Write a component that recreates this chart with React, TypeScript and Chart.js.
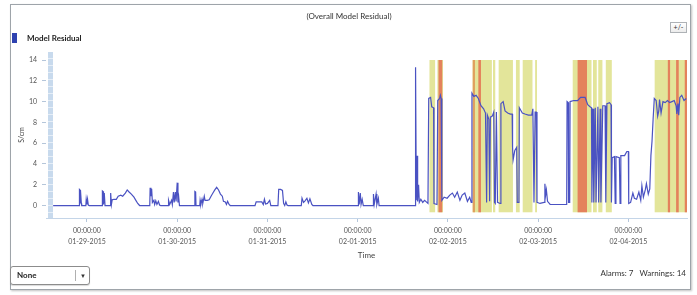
import React, { useEffect, useRef } from 'react';
import { Chart, registerables } from 'chart.js';

Chart.register(...registerables);

// ---- data ----
const dayLabels = ['01-29-2015', '01-30-2015', '01-31-2015', '02-01-2015', '02-02-2015', '02-03-2015', '02-04-2015'];
const timeLabel = '00:00:00';
const yTickValues = [0, 2, 4, 6, 8, 10, 12, 14];

// hours since 01-29-2015 00:00:00
const residualHours = [
  -9.0, -2.05, -2.0, -1.85, -1.8, -1.65, -1.5, -1.4, -0.3, -0.2, 0.0, 0.15, 0.35, 0.6,
  4.0, 4.1, 4.3, 4.4, 4.6, 4.8,
  6.2, 6.3, 6.5, 6.7, 7.2, 7.8, 8.3, 9.0, 9.5, 10.2, 10.7, 11.2, 11.8, 12.5, 13.0, 13.5, 14.0,
  16.7, 16.8, 17.0, 17.2, 17.4, 17.8, 18.0, 18.3, 18.6, 19.0, 19.3, 19.6,
  21.6, 21.7, 22.0, 22.5, 22.7, 23.0, 23.2, 23.5, 23.7, 24.0, 24.2, 24.4, 24.6,
  28.6, 28.7, 28.9, 29.0, 30.0, 30.1, 30.3, 30.6, 30.8, 31.2, 31.4, 32.0, 32.5,
  33.0, 33.5, 34.0, 34.5, 35.0, 35.5, 36.0, 36.3, 36.8, 37.1, 37.4, 37.8, 38.1,
  44.7, 45.0, 46.5, 46.9, 47.2, 47.5, 48.0, 48.6, 48.9,
  50.8, 51.0, 51.5, 52.0, 52.3, 52.6, 52.9, 53.2, 53.5,
  57.0, 57.2, 57.6, 58.0, 58.5, 58.9, 59.3, 59.8, 60.1,
  72.1, 72.2, 72.4, 72.7, 72.9, 73.2, 73.5, 76.1, 76.2, 76.4, 76.9, 77.1, 77.5, 77.7,
  87.3, 87.4, 87.6, 87.8, 87.95, 88.2, 88.4, 88.8, 89.3, 89.8, 90.4, 90.7,
  90.9, 91.4, 91.7, 92.2, 92.3, 93.1, 93.3, 93.8, 94.0, 94.2, 94.4,
  95.0, 95.8, 96.5, 97.2, 97.8, 98.5, 99.2, 99.8, 100.5, 101.2, 101.8, 102.2,
  102.4, 102.9, 103.5, 104.1, 104.8, 105.5, 106.0, 106.3, 106.5, 106.9, 107.1, 107.3, 107.8, 108.2,
  108.4, 108.6, 108.9, 109.2, 109.9, 110.1, 110.7, 111.2, 111.9, 112.6, 113.1,
  113.2, 113.35, 113.8, 114.3, 114.45, 114.9, 115.0, 115.8, 116.5, 117.4, 118.3, 118.6,
  118.75, 118.9, 119.2, 119.5, 119.7, 120.5, 121.6, 121.8, 122.0, 122.2, 122.5, 123.2, 127.6,
  127.7, 128.0, 128.1, 128.4, 128.5, 129.5, 130.5, 131.3, 132.5, 133.2, 133.8, 134.2,
  134.3, 134.6, 134.8, 135.2, 135.4, 135.9, 136.1, 136.5, 136.7, 137.2, 137.8, 138.0, 138.3, 139.0, 139.4,
  139.5, 139.7, 140.3, 140.5, 140.7, 141.6, 141.8, 142.0, 143.0, 143.6, 144.0, 144.1,
  144.6, 145.2, 145.6, 146.2, 146.8, 147.3, 147.6, 148.0, 148.5, 148.8, 149.3, 149.7,
  150.0, 150.3, 150.6, 150.9, 151.4, 151.8, 152.1, 152.3, 152.7, 153.2, 153.8, 154.4,
  155.0, 155.6, 156.2, 156.7, 156.9, 157.2, 157.4, 157.7, 158.2, 158.8, 159.4,
];

const residualValues = [
  0, 0, 1.55, 1.5, 0.2, 1.45, 0.2, 0, 0, 0.6, 0.1, 0.6, 0.05, 0,
  0, 1.4, 1.35, 0.1, 1.2, 0,
  0, 1.2, 0.1, 0.55, 0.6, 0.6, 0.9, 1.0, 0.9, 1.2, 1.5, 1.3, 1.1, 0.8, 0.5, 0.2, 0,
  0, 1.7, 0.9, 1.6, 0.3, 0.5, 0.1, 0.45, 0.1, 0.4, 0.05, 0,
  0, 0.5, 0.1, 0.5, 0.1, 1.3, 0.3, 1.3, 0.4, 2.2, 0.3, 0.8, 0,
  0, 1.35, 1.3, 0, 0, 0.5, 0.1, 0.6, 0.2, 0.9, 0.5, 0.5, 0.55,
  0.9, 1.2, 1.5, 1.75, 1.5, 1.1, 0.9, 0.4, 0.35, 0.1, 0.4, 0.1, 0,
  0, 0.35, 0.35, 0.1, 0.6, 0.15, 0.2, 0.5, 0,
  0, 1.55, 1.55, 1.45, 0.2, 0, 0.35, 0.05, 0,
  0, 0.7, 0.3, 0.45, 0.7, 0.25, 0.65, 0.1, 0,
  0, 1.3, 0.1, 1.2, 0.1, 0.6, 0, 0, 1.1, 0.1, 1.1, 0.1, 0.7, 0,
  0, 13.3, 0.5, 4.8, 0.4, 2.0, 0.3, 0.6, 0.3, 0.5, 0.3, 0.2,
  10.3, 10.4, 9.5, 9.4, 0.2, 0.1, 10.1, 10.3, 10.6, 10.3, 0.5,
  0.8, 0.7, 1.0, 1.2, 0.8, 1.3, 0.5, 1.0, 1.2, 0.4, 0.8, 0.3,
  10.8, 10.5, 10.6, 10.3, 9.6, 9.3, 8.9, 0.3, 8.7, 8.3, 0.4, 8.5, 8.6, 9.0,
  0.3, 0.2, 9.0, 0.3, 0.2, 9.8, 10.0, 9.1, 8.9, 8.8, 8.8,
  5.6, 4.4, 5.3, 5.6, 0.3, 0.3, 9.4, 8.9, 8.8, 8.7, 8.7, 9.3,
  5.0, 0.3, 9.0, 9.0, 0.3, 0.2, 0.3, 2.1, 1.0, 1.5, 0.4, 0.1, 0.1,
  10.0, 9.9, 0.3, 0.3, 10.0, 10.1, 10.1, 10.4, 10.4, 9.7, 9.5, 9.4,
  0.3, 9.3, 0.3, 9.4, 0.3, 9.5, 0.3, 9.3, 0.3, 9.6, 9.6, 0.3, 9.8, 9.9, 9.7,
  0.3, 4.6, 4.7, 0.2, 4.7, 4.6, 0.2, 4.8, 4.8, 5.2, 5.2, 0.2,
  0.3, 1.2, 0.7, 0.6, 1.3, 0.5, 1.9, 0.8, 1.5, 2.1, 1.1, 1.6,
  4.8, 6.2, 8.4, 10.3, 10.1, 8.6, 9.1, 10.2, 8.9, 10.0, 9.9, 10.1,
  9.9, 10.0, 10.1, 9.6, 8.8, 9.8, 8.7, 10.4, 10.6, 10.1, 10.3,
];

// warning / alarm periods [start hour, end hour]
const warningBands = [
  [91.1, 92.6], [93.2, 94.7], [102.6, 107.7], [108.0, 108.6], [109.5, 113.3], [114.1, 115.1],
  [115.9, 118.5], [119.2, 119.7], [129.2, 134.2], [134.6, 135.6], [136.0, 137.1], [138.0, 139.6],
  [151.0, 159.7],
];
const alarmBands = [
  [93.5, 94.5], [102.6, 103.2], [104.1, 104.8], [130.5, 133.0], [154.5, 155.1], [156.7, 157.4], [159.0, 159.6],
];
const alarmColors = ['#e4825c', '#e0a05e', '#e4825c', '#e4825c', '#e4825c', '#e4825c', '#e4825c'];
const alarmCount = 7;
const warningCount = 14;

const FONT = "Lato, 'Liberation Sans', Arial, sans-serif";

export default function App() {
  const canvasRef = useRef<HTMLCanvasElement>(null);

  useEffect(() => {
    if (!canvasRef.current) return;

    const swatch = document.createElement('canvas');
    swatch.width = 11;
    swatch.height = 10;
    const sctx = swatch.getContext('2d')!;
    sctx.fillStyle = '#2e42b0';
    sctx.fillRect(0, 0, 5, 10);

    const bandPlugin = {
      id: 'bands',
      beforeDatasetsDraw(chart: any) {
        const { ctx, chartArea, scales } = chart;
        const x = scales.x;
        const y = scales.y;
        const top = y.getPixelForValue(14);
        const bottom = y.getPixelForValue(-0.65);
        ctx.save();
        ctx.beginPath();
        ctx.rect(chartArea.left, chartArea.top, chartArea.right - chartArea.left, chartArea.bottom - chartArea.top);
        ctx.clip();
        ctx.fillStyle = '#e3e59a';
        warningBands.forEach(([s, e]) => {
          const a = x.getPixelForValue(s);
          const b = x.getPixelForValue(e);
          ctx.fillRect(a, top, b - a, bottom - top);
        });
        alarmBands.forEach(([s, e], i) => {
          const a = x.getPixelForValue(s);
          const b = x.getPixelForValue(e);
          ctx.fillStyle = alarmColors[i];
          ctx.fillRect(a, top, b - a, bottom - top);
        });
        // left scroll strip
        const sx = chartArea.left + 2;
        ctx.fillStyle = '#c8daed';
        ctx.fillRect(sx, chartArea.top, 5, chartArea.bottom - chartArea.top);
        ctx.fillStyle = 'rgba(255,255,255,0.55)';
        for (let yy = chartArea.top + 6; yy < chartArea.bottom; yy += 7) {
          ctx.fillRect(sx, yy, 5, 1);
        }
        ctx.restore();
      },
    };

    const chart = new Chart(canvasRef.current, {
      type: 'line',
      data: {
        datasets: [
          {
            label: 'Model Residual',
            data: residualHours.map((h, i) => ({ x: h, y: residualValues[i] })),
            borderColor: '#4a52c2',
            backgroundColor: '#2e42b0',
            borderWidth: 1.2,
            pointRadius: 0,
            tension: 0,
            fill: false,
          },
        ],
      },
      options: {
        responsive: false,
        maintainAspectRatio: false,
        animation: false,
        layout: { padding: { top: 0, left: 11, right: 10, bottom: 35.2 } },
        plugins: {
          title: {
            display: true,
            text: '(Overall Model Residual)',
            color: '#333',
            font: { family: FONT, size: 8, weight: 'normal' },
            padding: { top: 11.2, bottom: 12.2 },
          },
          legend: {
            display: true,
            position: 'top',
            align: 'start',
            labels: {
              usePointStyle: true,
              pointStyle: swatch,
              pointStyleWidth: 11,
              padding: 1,
              color: '#222',
              font: { family: FONT, size: 8, weight: 'bold' },
            },
          },
          tooltip: { enabled: false },
        },
        scales: {
          x: {
            type: 'linear',
            min: -10.9,
            max: 159.6,
            afterBuildTicks: (s: any) => {
              s.ticks = dayLabels.map((_, i) => ({ value: i * 24 }));
            },
            afterFit: (s: any) => {
              s.height = 41.8;
            },
            grid: { drawOnChartArea: false, drawTicks: true, tickLength: 4, color: '#b5c6da' },
            border: { display: true, color: '#c4d5e8', width: 1 },
            ticks: {
              autoSkip: false,
              maxRotation: 0,
              padding: 3.5,
              color: '#555',
              font: { family: FONT, size: 7, lineHeight: 1.57 },
              callback: (_v: any, i: number) => [timeLabel, dayLabels[i] ?? ''],
            },
            title: {
              display: true,
              text: 'Time',
              color: '#444',
              font: { family: FONT, size: 8 },
              padding: { top: 0, bottom: 0 },
            },
          },
          y: {
            min: -1.2,
            max: 14.77,
            afterBuildTicks: (s: any) => {
              s.ticks = yTickValues.map((v) => ({ value: v }));
            },
            afterFit: (s: any) => {
              s.width = 35;
            },
            grid: { drawOnChartArea: false, drawTicks: true, tickLength: 4, color: '#b5c6da' },
            border: { display: false },
            ticks: { padding: 5, color: '#555', font: { family: FONT, size: 7 } },
            title: {
              display: true,
              text: 'S/cm',
              color: '#444',
              font: { family: FONT, size: 7 },
              padding: { top: 6.8, bottom: 0 },
            },
          },
        },
      } as any,
      plugins: [bandPlugin],
    });

    return () => chart.destroy();
  }, []);

  return (
    <div style={{ position: 'fixed', left: 0, top: 0, width: 697, height: 295, background: '#fff', fontFamily: FONT, overflow: 'hidden' }}>
      <div
        style={{
          position: 'absolute', left: 10, top: 4, width: 679, height: 284,
          border: '1px solid #9ea4aa', boxShadow: '1px 1px 2px rgba(0,0,0,0.25)', background: '#fff',
        }}
      />
      <canvas ref={canvasRef} width={697} height={295} style={{ position: 'absolute', left: 0, top: 0, width: 697, height: 295 }} />
      <div
        style={{
          position: 'absolute', left: 670, top: 22, width: 17, height: 11, boxSizing: 'border-box',
          border: '1px solid #aeb2b6', background: 'linear-gradient(#ffffff, #ececec)', fontSize: 7,
          lineHeight: '9px', textAlign: 'center', color: '#333',
        }}
      >
        +/-
      </div>
      <div
        style={{
          position: 'absolute', left: 10, top: 266, width: 80, height: 19, boxSizing: 'border-box',
          border: '1px solid #8c8c8c', borderRadius: 3, background: '#fff', boxShadow: '0 1px 1px rgba(0,0,0,0.15)',
        }}
      >
        <span style={{ position: 'absolute', left: 6, top: 0, lineHeight: '17px', fontSize: 8, fontWeight: 'bold', color: '#222' }}>None</span>
        <span style={{ position: 'absolute', left: 64, top: 3, width: 1, height: 11, background: '#b0b0b0' }} />
        <span style={{ position: 'absolute', left: 66, top: 0, width: 12, lineHeight: '17px', fontSize: 6, textAlign: 'center', color: '#333' }}>▼</span>
      </div>
      <div
        style={{
          position: 'absolute', right: 11, top: 268, fontSize: 8, color: '#333', whiteSpace: 'pre', lineHeight: '11px',
        }}
      >
        {`Alarms: ${alarmCount}   Warnings: ${warningCount}`}
      </div>
    </div>
  );
}
